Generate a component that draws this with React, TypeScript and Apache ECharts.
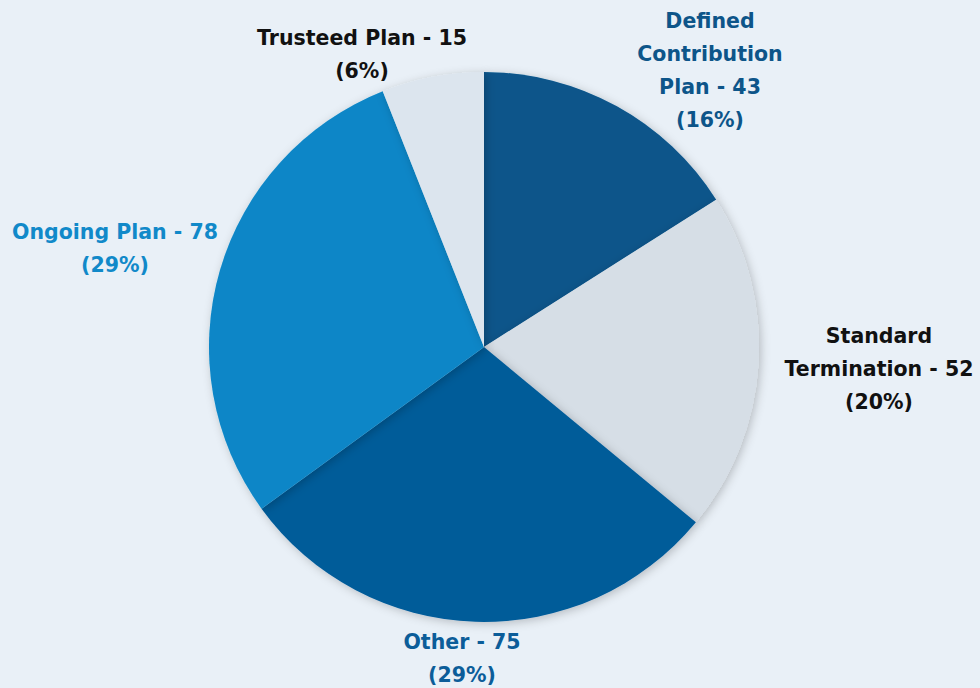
import React, { useEffect, useRef } from "react";
import * as echarts from "echarts";

// ---- data ----
const categories = [
  "Defined Contribution Plan",
  "Standard Termination",
  "Other",
  "Ongoing Plan",
  "Trusteed Plan",
];
const counts = [43, 52, 75, 78, 15];
const shares = [16, 20, 29, 29, 6]; // percent of total, as shown
const labelLines = [
  ["Defined", "Contribution", "Plan - 43"],
  ["Standard", "Termination - 52"],
  ["Other - 75"],
  ["Ongoing Plan - 78"],
  ["Trusteed Plan - 15"],
];

// ---- styling / layout ----
const sliceColors = ["#08548A", "#D6DEE6", "#015B99", "#0A86C7", "#DCE5EE"];
const labelColors = ["#0D5589", "#111111", "#0C5D99", "#1189C9", "#111111"];
const CENTER = [484, 347];
const RADIUS = 275;
// label centres relative to the pie centre
const labelOffsets = [
  [226, -277],
  [395, 22],
  [-22, 311],
  [-369, -99],
  [-122, -293],
];

export default function App() {
  const ref = useRef<HTMLDivElement>(null);
  useEffect(() => {
    document.body.style.margin = "0";
    const chart = echarts.init(ref.current!, undefined, { renderer: "svg" });
    chart.setOption({
      animation: false,
      backgroundColor: "#E9F0F7",
      series: [
        {
          type: "pie",
          center: CENTER,
          radius: RADIUS,
          startAngle: 90,
          clockwise: true,
          data: categories.map((name, i) => ({
            name,
            value: shares[i],
            count: counts[i],
            itemStyle: { color: sliceColors[i] },
            label: { color: labelColors[i] },
          })),
          itemStyle: {
            shadowBlur: 10,
            shadowColor: "rgba(0,0,0,0.22)",
            shadowOffsetX: 2,
            shadowOffsetY: 2,
          },
          emphasis: { disabled: true },
          label: {
            show: true,
            position: "outside",
            fontFamily: "DejaVu Sans, sans-serif",
            fontWeight: "bold",
            fontSize: 20.5,
            lineHeight: 33,
            align: "center",
            overflow: "none",
            edgeDistance: 0,
            formatter: (p: any) =>
              labelLines[p.dataIndex].join("\n") + "\n(" + shares[p.dataIndex] + "%)",
          },
          labelLine: { show: false },
          labelLayout: (p: any) => {
            const o = labelOffsets[p.dataIndex];
            return {
              x: CENTER[0] + o[0],
              y: CENTER[1] + o[1],
              align: "center",
              verticalAlign: "middle",
            };
          },
        },
      ],
    });
    return () => chart.dispose();
  }, []);
  return <div ref={ref} style={{ width: 980, height: 688 }} />;
}
